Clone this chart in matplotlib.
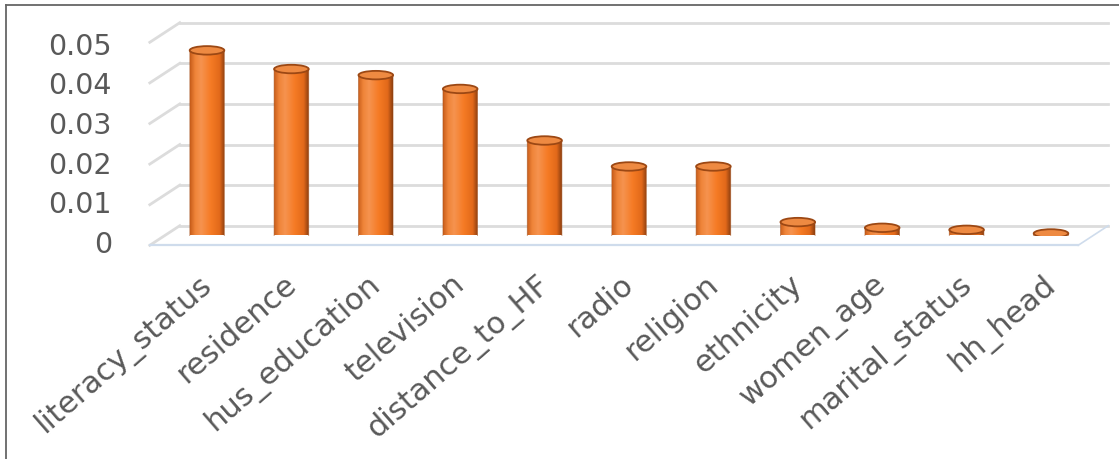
import numpy as np
import matplotlib
matplotlib.use("Agg")
import matplotlib.pyplot as plt
from matplotlib.colors import LinearSegmentedColormap
from matplotlib.patches import Ellipse, PathPatch
from matplotlib.path import Path
from matplotlib.lines import Line2D
import matplotlib.transforms as mtransforms

# ---------------- data ----------------
categories = ["literacy_status", "residence", "hus_education", "television",
              "distance_to_HF", "radio", "religion", "ethnicity", "women_age",
              "marital_status", "hh_head"]
values = [0.0456, 0.0410, 0.0395, 0.0361, 0.0234, 0.0170, 0.0170,
          0.0033, 0.0019, 0.0014, 0.0005]
yticks = [0, 0.01, 0.02, 0.03, 0.04, 0.05]
ytick_labels = ["0", "0.01", "0.02", "0.03", "0.04", "0.05"]

# ---------------- figure ----------------
W, H, DPI = 1119, 459, 100
fig = plt.figure(figsize=(W / DPI, H / DPI), dpi=DPI)
fig.patch.set_facecolor("white")

# axes in the "mid-depth" plane of the pseudo-3D chart
ax_l, ax_r = 164.8, 1093.2          # pixels
ax_top, ax_bot = 32.5, 235.5        # pixels from top
ax = fig.add_axes([ax_l / W, (H - ax_bot) / H, (ax_r - ax_l) / W, (ax_bot - ax_top) / H])
ax.set_xlim(-0.5, len(categories) - 0.5)
ax.set_ylim(0, 0.05)
ax.axis("off")

TEXT = "#595959"
GRID = "#dcdcdc"
FLOOR = "#cfdcec"

def off(dx_px, dy_px):
    return ax.transData + mtransforms.ScaledTranslation(dx_px / DPI, dy_px / DPI, fig.dpi_scale_trans)

DEPTH_X, DEPTH_Y = 15.0, 9.8   # half-depth offsets in pixels
back = off(DEPTH_X, DEPTH_Y)
front = off(-DEPTH_X, -DEPTH_Y)
x0, x1 = -0.5, len(categories) - 0.5
ident = mtransforms.IdentityTransform()

# back-wall gridlines and side-wall diagonals
for v in yticks:
    ax.add_line(Line2D([x0, x1], [v, v], transform=back, color=GRID, lw=2.0,
                       clip_on=False, zorder=1))
    p_front = front.transform((x0, v))
    p_back = back.transform((x0, v))
    ax.add_line(Line2D([p_front[0], p_back[0]], [p_front[1], p_back[1]],
                       transform=ident, color=GRID, lw=2.0, clip_on=False, zorder=1))

# floor front edge and right edge
ax.add_line(Line2D([x0, x1], [0, 0], transform=front, color=FLOOR, lw=1.6,
                   clip_on=False, zorder=1))
pf = front.transform((x1, 0)); pb = back.transform((x1, 0))
ax.add_line(Line2D([pf[0], pb[0]], [pf[1], pb[1]], transform=ident, color=FLOOR,
                   lw=1.2, clip_on=False, zorder=1))

# ---------------- cylinders ----------------
cmap = LinearSegmentedColormap.from_list(
    "cyl", [(0.0, "#c85d1a"), (0.15, "#ef8439"), (0.32, "#f6934f"),
            (0.6, "#f57a24"), (0.85, "#e2691a"), (1.0, "#8a3d10")])
bw = 0.41
px_per_y = (ax_bot - ax_top) / 0.05
eh = 8.5 / px_per_y                 # ellipse height in data units
grad = np.linspace(0, 1, 256).reshape(1, -1)

for i, v in enumerate(values):
    xl, xr = i - bw / 2, i + bw / 2
    t = np.linspace(np.pi, 2 * np.pi, 60)
    bx = i + bw / 2 * np.cos(t)
    by = 0 + eh / 2 * np.sin(t)
    verts = list(zip(bx, by)) + [(xr, v), (xl, v), (xl, 0)]
    codes = [Path.MOVETO] + [Path.LINETO] * (len(verts) - 2) + [Path.CLOSEPOLY]
    body = PathPatch(Path(verts, codes), facecolor="none", edgecolor="none", zorder=3)
    ax.add_patch(body)
    im = ax.imshow(grad, extent=[xl, xr, -eh, v], aspect="auto", cmap=cmap,
                   zorder=3, interpolation="bilinear")
    im.set_clip_path(body)
    ax.add_patch(PathPatch(Path(verts, codes), facecolor="none", edgecolor="#a5501a",
                           lw=0.6, zorder=4, alpha=0.6))
    # top cap
    ax.add_patch(Ellipse((i, v), bw, eh, facecolor="#ee8a42", edgecolor="#9c4814",
                         lw=1.3, zorder=5))

ax.set_aspect("auto")
ax.set_xlim(-0.5, len(categories) - 0.5)
ax.set_ylim(0, 0.05)

# ---------------- labels ----------------
for k, (v, s) in enumerate(zip(yticks, ytick_labels)):
    ax.text(x0, v, s, transform=off(-53, -(9.5 + 0.95 * k)), ha="right", va="center",
            fontsize=20.5, color=TEXT, family="DejaVu Sans")

xlab_tr = off(-9, -34)
for i, s in enumerate(categories):
    ax.text(i, 0, s, transform=xlab_tr, ha="right", va="top", rotation=41,
            rotation_mode="anchor", fontsize=22, color=TEXT, family="DejaVu Sans")

# frame (top and left edges visible)
fig.add_artist(Line2D([6 / W, 6 / W], [0, 1 - 5 / H], color="#666666", lw=1.3))
fig.add_artist(Line2D([6 / W, 1], [1 - 5 / H, 1 - 5 / H], color="#666666", lw=1.3))

fig.savefig("out.png", dpi=DPI, facecolor="white")
